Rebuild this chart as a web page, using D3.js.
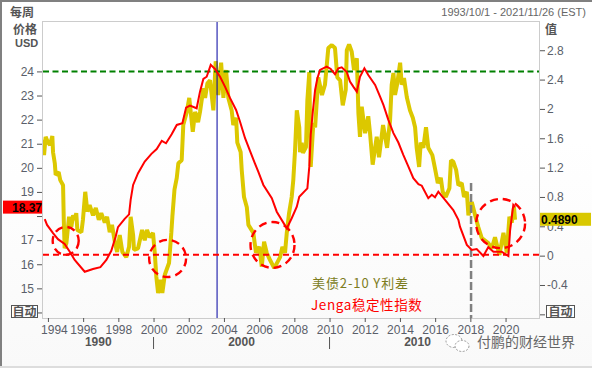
<!DOCTYPE html>
<html>
<head>
<meta charset="utf-8">
<script src="https://cdn.jsdelivr.net/npm/d3@7"></script>
<style>
    html, body { margin: 0; padding: 0; background: #fff; }
    svg { display: block; }
    text { font-family: "Liberation Sans", sans-serif; }
    .cjk { font-family: "Noto Sans CJK SC", sans-serif; }
    .tick text { font-size: 12px; fill: #5a5f6a; }
    .tick line { stroke: #555; }
</style>
</head>
<body>
<svg id="chart" width="592" height="368"></svg>
<script>
// Spread (right axis)
const spreadYears = [1993.72,1993.78,1993.87,1994.01,1994.12,1994.25,1994.29,1994.39,1994.44,1994.61,1994.70,1994.86,1994.90,1994.95,1995.05,1995.20,1995.33,1995.43,1995.54,1995.61,1995.67,1995.90,1995.99,1996.12,1996.24,1996.37,1996.56,1996.72,1996.89,1997.03,1997.23,1997.36,1997.51,1997.64,1997.80,1997.93,1998.08,1998.23,1998.45,1998.61,1998.70,1998.84,1998.89,1999.12,1999.35,1999.50,1999.63,1999.78,1999.97,2000.07,2000.16,2000.26,2000.39,2000.50,2000.64,2000.88,2001.01,2001.07,2001.19,2001.32,2001.41,2001.60,2001.69,2001.89,2002.03,2002.23,2002.36,2002.53,2002.64,2002.83,2002.93,2003.06,2003.21,2003.40,2003.53,2003.68,2003.84,2003.97,2004.12,2004.25,2004.44,2004.53,2004.69,2004.76,2004.95,2005.01,2005.14,2005.30,2005.39,2005.67,2005.82,2006.01,2006.15,2006.28,2006.43,2006.62,2006.86,2007.19,2007.32,2007.47,2007.57,2007.70,2007.85,2007.94,2008.04,2008.14,2008.28,2008.32,2008.42,2008.49,2008.66,2008.74,2008.85,2008.93,2009.08,2009.18,2009.36,2009.57,2009.74,2009.93,2010.13,2010.31,2010.44,2010.60,2010.75,2010.92,2010.98,2011.11,2011.26,2011.39,2011.55,2011.64,2011.73,2011.83,2012.02,2012.20,2012.30,2012.45,2012.68,2012.81,2013.04,2013.27,2013.44,2013.53,2013.63,2013.72,2013.85,2014.01,2014.10,2014.23,2014.39,2014.57,2014.73,2014.86,2014.95,2015.09,2015.18,2015.33,2015.48,2015.61,2015.84,2015.99,2016.15,2016.32,2016.43,2016.60,2016.81,2016.90,2017.03,2017.19,2017.32,2017.51,2017.64,2017.80,2017.89,2018.08,2018.27,2018.45,2018.65,2019.02,2019.22,2019.40,2019.65,2019.88,2020.07,2020.22,2020.35,2020.48,2020.54];
const spreadValues = [1.58,1.37,1.62,1.54,1.51,1.63,1.41,1.26,1.10,1.14,1.03,0.96,0.49,0.10,0.17,0.53,0.39,0.55,0.49,0.58,0.35,0.32,0.49,0.87,0.60,0.69,0.55,0.65,0.49,0.58,0.45,0.53,0.32,0.42,0.19,0.05,0.28,0.05,-0.02,0.12,0.53,0.28,0.08,0.10,0.35,0.21,0.35,0.25,0.31,0.04,-0.29,-0.51,-0.33,-0.51,-0.26,-0.10,0.31,0.53,0.90,1.06,1.26,1.30,1.78,1.96,2.15,1.69,1.96,1.82,1.96,2.28,2.15,2.35,2.39,1.98,2.65,2.19,2.63,2.15,2.53,2.15,1.98,1.78,1.88,1.54,1.41,1.17,0.80,0.66,0.42,0.31,0.04,0.12,-0.15,0.19,0.04,-0.06,-0.17,-0.02,0.12,0.04,0.31,0.58,0.80,1.03,1.44,1.98,1.75,1.41,1.54,1.40,1.48,2.12,2.50,1.21,1.81,1.75,2.43,2.19,2.33,2.83,2.87,2.83,2.43,2.39,2.05,2.26,2.80,2.88,2.78,2.53,2.69,1.94,1.62,2.03,1.67,1.90,1.67,1.24,1.62,1.34,1.78,1.47,1.85,2.33,2.49,2.19,2.35,2.63,2.33,2.42,2.16,1.98,1.88,1.75,1.47,1.21,1.54,1.47,1.75,1.47,1.37,1.19,0.99,1.06,0.87,0.80,0.92,1.30,1.28,1.17,0.96,0.99,0.80,0.87,0.55,0.73,0.55,0.39,0.24,0.17,0.10,0.25,0.01,0.31,0.04,0.53,0.45,0.66,0.489];

// Jenga index (left axis)
const jengaYears = [1993.82,1993.95,1994.29,1994.57,1994.95,1995.24,1995.52,1996.09,1996.56,1996.98,1997.32,1997.60,1997.85,1997.98,1998.36,1998.61,1998.70,1998.84,1999.12,1999.50,1999.88,2000.18,2000.47,2000.71,2001.03,2001.32,2001.64,2001.85,2002.07,2002.45,2002.64,2002.83,2003.02,2003.25,2003.49,2003.78,2004.06,2004.35,2004.69,2004.91,2005.20,2005.48,2005.77,2005.95,2006.24,2006.72,2007.00,2007.57,2007.85,2008.14,2008.28,2008.74,2008.85,2008.93,2009.05,2009.18,2009.31,2009.46,2009.84,2010.07,2010.31,2010.50,2010.69,2010.98,2011.16,2011.35,2011.55,2011.73,2011.98,2012.20,2012.59,2012.87,2013.06,2013.34,2013.63,2013.91,2014.19,2014.48,2014.76,2015.05,2015.24,2015.61,2015.81,2015.99,2016.18,2016.56,2017.03,2017.32,2017.41,2017.80,2018.08,2018.36,2018.74,2019.02,2019.31,2019.78,2020.16,2020.26,2020.44,2020.54];
const jengaValues = [17.87,17.63,17.29,17.04,16.84,16.52,16.18,15.69,15.80,15.88,16.18,16.56,17.15,17.54,17.88,18.07,18.67,19.29,19.78,20.26,20.58,20.78,21.12,21.02,21.39,21.78,21.85,22.50,22.58,22.47,23.16,23.69,23.78,24.27,24.10,23.78,23.37,22.89,22.40,21.92,21.23,20.70,20.16,19.84,19.29,18.74,18.18,17.49,17.91,18.39,18.80,19.15,20.05,21.37,22.33,23.23,23.72,24.06,24.20,24.10,23.88,24.13,24.17,23.97,23.58,23.37,23.16,23.78,24.13,23.85,23.44,22.95,22.61,21.99,21.44,21.05,20.54,20.05,19.57,19.32,19.26,18.74,18.88,18.78,19.01,18.67,18.25,17.84,17.56,16.80,16.59,16.63,16.34,16.71,16.52,16.52,16.34,17.42,18.46,18.37];

// Ticks
const priceTicks = [14, 15, 16, 17, 18, 19, 20, 21, 22, 23, 24];
const valueTicks = [-0.8, -0.4, 0, 0.4, 0.8, 1.2, 1.6, 2, 2.4, 2.8];
const yearTicks = [1994, 1996, 1998, 2000, 2002, 2004, 2006, 2008, 2010, 2012, 2014, 2016, 2018, 2020];
const decadeLabels = ["1990", "2000", "2010"];
const decadeCenters = [1996.86, 2005, 2015];
const decadeBreaks = [2000, 2010];

// Reference lines
const greenLevel = 24;
const redLevel = 16.39;
const blueLineYear = 2003.61;
const greyLineYear = 2018.04;
const greyLineTop = 19.37;

// Hand drawn circles (centre year, centre price, half width in years, half height in price)
const circleYears = [1995.01, 2000.80, 2006.76, 2019.72];
const circlePrices = [16.97, 16.24, 16.80, 17.69];
const circleRx = [0.74, 1.05, 1.25, 1.39];
const circleRy = [0.58, 0.77, 0.95, 1.02];

const lastPrice = "18.37";
const lastValue = "0.4890";
const lastPriceLevel = 18.37;
const lastValueLevel = 0.489;

const plotLeft = 43, plotRight = 539, plotTop = 22, plotBottom = 318;

const svg = d3.select("#chart");

// 1. Scales
const xScale = d3.scaleLinear().domain([1993.72, 2021.9]).range([plotLeft, plotRight]);
const yPrice = d3.scaleLinear().domain([13.77, 26.05]).range([plotBottom, plotTop]);
const yValue = d3.scaleLinear().domain([-0.85, 3.185]).range([plotBottom, plotTop]);

// 2. Background and frame
const defs = svg.append("defs");
const grad = defs.append("linearGradient").attr("id", "bg").attr("x1", 0).attr("y1", 0).attr("x2", 0).attr("y2", 1);
grad.append("stop").attr("offset", "38%").attr("stop-color", "#ffffff");
grad.append("stop").attr("offset", "100%").attr("stop-color", "#f9f9f9");
defs.append("clipPath").attr("id", "plotClip").append("rect")
    .attr("x", plotLeft).attr("y", plotTop).attr("width", plotRight - plotLeft).attr("height", plotBottom - plotTop);

svg.append("rect").attr("width", 592).attr("height", 368).attr("fill", "url(#bg)");
svg.append("rect").attr("width", 592).attr("height", 2).attr("fill", "#808080");
svg.append("rect").attr("width", 2).attr("height", 368).attr("fill", "#808080");
svg.append("rect").attr("y", 366).attr("width", 592).attr("height", 2).attr("fill", "#dddddd");

svg.append("rect")
    .attr("x", plotLeft - 0.5).attr("y", plotTop - 0.5)
    .attr("width", plotRight - plotLeft + 1).attr("height", plotBottom - plotTop + 1)
    .attr("fill", "none").attr("stroke", "#cccccc").attr("stroke-width", 1);

// 3. Axes (18 and -0.8 and 14 sit behind the flags and buttons, so no label)
const leftAxis = d3.axisLeft(yPrice).tickValues(priceTicks).tickSize(5).tickPadding(3)
    .tickFormat(d => (d === 14 || d === 18) ? "" : d);
const rightAxis = d3.axisRight(yValue).tickValues(valueTicks).tickSize(5).tickPadding(2)
    .tickFormat(d => d === -0.8 ? "" : String(d));
const bottomAxis = d3.axisBottom(xScale).tickValues(yearTicks).tickSize(4).tickPadding(3)
    .tickFormat(d => d);

svg.append("g").attr("transform", `translate(${plotLeft - 1},0)`).call(leftAxis).call(g => g.select(".domain").remove());
svg.append("g").attr("transform", `translate(${plotRight + 1},0)`).call(rightAxis).call(g => g.select(".domain").remove());
const xAxisG = svg.append("g").attr("transform", `translate(0,${plotBottom})`).call(bottomAxis);
xAxisG.select(".domain").remove();
xAxisG.selectAll(".tick text").filter(d => d === 1994).attr("dx", 6);

// decade row
svg.selectAll(".decade")
    .data(decadeLabels)
    .enter()
    .append("text")
    .attr("class", "decade")
    .attr("x", (d, i) => xScale(decadeCenters[i]))
    .attr("y", 346)
    .attr("text-anchor", "middle")
    .attr("font-size", 12)
    .attr("font-weight", "bold")
    .attr("fill", "#555")
    .text(d => d);

svg.selectAll(".decadeBreak")
    .data(decadeBreaks)
    .enter()
    .append("line")
    .attr("x1", d => xScale(d)).attr("x2", d => xScale(d))
    .attr("y1", 337).attr("y2", 349)
    .attr("stroke", "#555");

// 4. Series
const plot = svg.append("g").attr("clip-path", "url(#plotClip)");

const spreadLine = d3.line().x(d => xScale(d[0])).y(d => yValue(d[1]));
const jengaLine = d3.line().x(d => xScale(d[0])).y(d => yPrice(d[1]));

plot.append("path")
    .attr("d", spreadLine(d3.zip(spreadYears, spreadValues)))
    .attr("fill", "none").attr("stroke", "#dcc800").attr("stroke-width", 4).attr("stroke-linejoin", "bevel");

// level lines sit over the spread
plot.append("line")
    .attr("x1", plotLeft).attr("x2", plotRight)
    .attr("y1", yPrice(greenLevel)).attr("y2", yPrice(greenLevel))
    .attr("stroke", "#008000").attr("stroke-width", 2).attr("stroke-dasharray", "6,3.5");

plot.append("line")
    .attr("x1", xScale(greyLineYear)).attr("x2", xScale(greyLineYear))
    .attr("y1", yPrice(greyLineTop)).attr("y2", plotBottom)
    .attr("stroke", "#808080").attr("stroke-width", 2.5).attr("stroke-dasharray", "8,3");

plot.append("line")
    .attr("x1", xScale(blueLineYear)).attr("x2", xScale(blueLineYear))
    .attr("y1", plotTop).attr("y2", plotBottom)
    .attr("stroke", "#0000a0").attr("stroke-width", 1);

plot.append("path")
    .attr("d", jengaLine(d3.zip(jengaYears, jengaValues)))
    .attr("fill", "none").attr("stroke", "#ff0000").attr("stroke-width", 2);

plot.append("line")
    .attr("x1", plotLeft).attr("x2", plotRight)
    .attr("y1", yPrice(redLevel)).attr("y2", yPrice(redLevel))
    .attr("stroke", "#ff0000").attr("stroke-width", 2).attr("stroke-dasharray", "6,4");

// 5. Hand drawn circles
plot.selectAll(".circleMark")
    .data(circleYears)
    .enter()
    .append("ellipse")
    .attr("class", "circleMark")
    .attr("cx", d => xScale(d))
    .attr("cy", (d, i) => yPrice(circlePrices[i]))
    .attr("rx", (d, i) => xScale(d + circleRx[i]) - xScale(d))
    .attr("ry", (d, i) => yPrice(circlePrices[i] - circleRy[i]) - yPrice(circlePrices[i]))
    .attr("fill", "none").attr("stroke", "#ff0000").attr("stroke-width", 2.4).attr("stroke-dasharray", "8,5");

// 6. Legend inside the plot
svg.append("text").attr("class", "cjk")
    .attr("x", 312).attr("y", 288)
    .attr("font-size", 13).attr("letter-spacing", 0.9).attr("fill", "#7d7d1e")
    .text("美债2-10 Y利差");
svg.append("text").attr("class", "cjk")
    .attr("x", 311).attr("y", 310)
    .attr("font-size", 13.5).attr("letter-spacing", 0.6).attr("fill", "#ff0000")
    .text("Jenga稳定性指数");

// 7. Last value flags
svg.append("rect").attr("x", 3).attr("y", yPrice(lastPriceLevel) - 6.5).attr("width", 39).attr("height", 13).attr("fill", "#ff0000");
svg.append("text").attr("x", 42).attr("y", yPrice(lastPriceLevel) + 4.5).attr("text-anchor", "end")
    .attr("font-size", 12).attr("font-weight", "bold").attr("fill", "#000").text(lastPrice);

svg.append("rect").attr("x", 540).attr("y", yValue(lastValueLevel) - 7).attr("width", 51).attr("height", 13).attr("fill", "#d9c800");
svg.append("text").attr("x", 541).attr("y", yValue(lastValueLevel) + 4)
    .attr("font-size", 12).attr("font-weight", "bold").attr("fill", "#000").text(lastValue);

// 8. Header texts
const headerStyle = sel => sel.attr("class", "cjk").attr("font-size", 12).attr("font-weight", "bold").attr("fill", "#555");
svg.append("text").call(headerStyle).attr("x", 10).attr("y", 17).text("每周");
svg.append("text").call(headerStyle).attr("x", 13).attr("y", 34).text("价格");
svg.append("text").attr("x", 15).attr("y", 47).attr("font-size", 11).attr("font-weight", "bold").attr("fill", "#555").text("USD");
svg.append("text").call(headerStyle).attr("x", 545).attr("y", 34).text("值");
svg.append("text").attr("x", 586).attr("y", 16).attr("text-anchor", "end")
    .attr("font-size", 11).attr("fill", "#666").text("1993/10/1 - 2021/11/26 (EST)");

// 9. Auto buttons
[[11, 26], [546, 28]].forEach(([bx, bw]) => {
    svg.append("rect").attr("x", bx + 0.5).attr("y", 305.5).attr("width", bw).attr("height", 12)
        .attr("fill", "#fff").attr("stroke", "#555");
    svg.append("text").attr("class", "cjk").attr("x", bx + 0.5 + bw / 2).attr("y", 316)
        .attr("text-anchor", "middle").attr("font-size", 12).attr("font-weight", "bold").attr("fill", "#555").text("自动");
});

// 10. Watermark
const mark = svg.append("g").attr("fill", "#fff").attr("stroke", "#999").attr("stroke-dasharray", "2,1.5");
mark.append("ellipse").attr("cx", 454).attr("cy", 341).attr("rx", 8).attr("ry", 6.5);
mark.append("ellipse").attr("cx", 462).attr("cy", 346).attr("rx", 7).attr("ry", 5.5);
svg.append("text").attr("class", "cjk").attr("x", 477).attr("y", 347)
    .attr("font-size", 14).attr("fill", "#666").text("付鹏的财经世界");
</script>
</body>
</html>
